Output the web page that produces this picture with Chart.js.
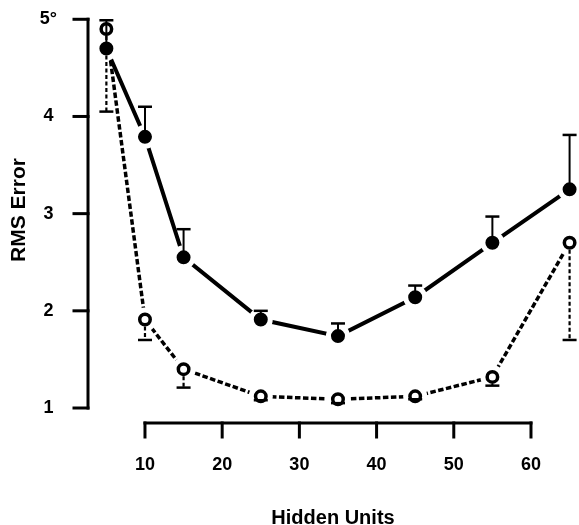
<!DOCTYPE html>
<html>
<head>
<meta charset="utf-8">
<script src="https://cdn.jsdelivr.net/npm/chart.js@4.4.0/dist/chart.umd.min.js"></script>
<style>
  html, body { margin: 0; padding: 0; background: #fff; }
</style>
</head>
<body>
<canvas id="chart_rmsError" width="579" height="525"></canvas>
<script>
// values
var hiddenUnits = [5, 10, 15, 25, 35, 45, 55, 65];
var filledRms   = [4.70, 3.79, 2.55, 1.91, 1.74, 2.14, 2.70, 3.25];
var filledUpper = [4.99, 4.10, 2.84, 2.00, 1.87, 2.26, 2.97, 3.81];
var openRms     = [4.90, 1.91, 1.40, 1.12, 1.09, 1.12, 1.32, 2.70];
var openLower   = [4.05, 1.70, 1.21, 1.08, 1.05, 1.09, 1.23, 1.70];
var xTickValues = [10, 20, 30, 40, 50, 60];
var yTickValues = [1, 2, 3, 4, 5];
var yTickLabels = ['1', '2', '3', '4', '5°'];

var FONT = '"Liberation Sans", Arial, Helvetica, sans-serif';

function toPoints(xs, ys) {
    return xs.map(function (x, i) { return { x: x, y: ys[i] }; });
}

function seg(ctx, x0, y0, x1, y1) {
    ctx.beginPath();
    ctx.moveTo(x0, y0);
    ctx.lineTo(x1, y1);
    ctx.stroke();
}

// keep the label padding from eating into the plot area
function noScalePadding(scale) {
    scale.paddingTop = 0;
    scale.paddingBottom = 0;
    scale.paddingLeft = 0;
    scale.paddingRight = 0;
}

var axesAndErrorBars = {
    id: 'axesAndErrorBars',
    beforeDraw: function (chart) {
        var ctx = chart.ctx;
        ctx.save();
        ctx.fillStyle = 'white';
        ctx.fillRect(0, 0, chart.width, chart.height);
        ctx.restore();
    },
    afterDatasetsDraw: function (chart) {
        var ctx = chart.ctx, xs = chart.scales.x, ys = chart.scales.y;
        ctx.save();
        ctx.strokeStyle = '#000';
        ctx.lineCap = 'butt';
        // upper bars of the filled series
        hiddenUnits.forEach(function (u, i) {
            var px = xs.getPixelForValue(u);
            var p0 = ys.getPixelForValue(filledRms[i]);
            var p1 = ys.getPixelForValue(filledUpper[i]);
            ctx.setLineDash([]);
            ctx.lineWidth = 2;
            seg(ctx, px, p0, px, p1);
            ctx.lineWidth = 2.5;
            seg(ctx, px - 7, p1, px + 7, p1);
        });
        // lower bars of the open series (dashed stem)
        hiddenUnits.forEach(function (u, i) {
            var px = xs.getPixelForValue(u);
            var p0 = ys.getPixelForValue(openRms[i]) + 7;
            var p1 = ys.getPixelForValue(openLower[i]);
            if (p1 > p0) {
                ctx.setLineDash([4, 2.5]);
                ctx.lineWidth = 2.2;
                seg(ctx, px, p0, px, p1);
            }
            ctx.setLineDash([]);
            ctx.lineWidth = 2.5;
            seg(ctx, px - 7, p1, px + 7, p1);
        });
        ctx.restore();
    },
    afterDraw: function (chart) {
        var ctx = chart.ctx, xs = chart.scales.x, ys = chart.scales.y;
        var ax = chart.chartArea.left;
        var ay = chart.chartArea.bottom + 8;
        ctx.save();
        ctx.strokeStyle = '#000';
        ctx.lineWidth = 3;
        ctx.lineCap = 'square';
        // y axis
        seg(ctx, ax, ys.getPixelForValue(yTickValues[0]), ax, ys.getPixelForValue(yTickValues[yTickValues.length - 1]));
        yTickValues.forEach(function (v) {
            var py = ys.getPixelForValue(v);
            seg(ctx, ax - 14, py, ax, py);
        });
        // x axis
        seg(ctx, xs.getPixelForValue(xTickValues[0]), ay, xs.getPixelForValue(xTickValues[xTickValues.length - 1]), ay);
        xTickValues.forEach(function (v) {
            var px = xs.getPixelForValue(v);
            seg(ctx, px, ay, px, ay + 14);
        });
        ctx.restore();
    }
};

var chart_rmsError = new Chart(document.getElementById('chart_rmsError'), {
    type: 'line',
    data: {
        datasets: [
            {
                label: 'filled line',
                data: toPoints(hiddenUnits, filledRms),
                borderColor: '#000',
                borderWidth: 4,
                pointRadius: 0,
                fill: false,
                order: 5
            },
            {
                label: 'open line',
                data: toPoints(hiddenUnits, openRms),
                borderColor: '#000',
                borderWidth: 3.5,
                borderDash: [5.5, 2.5],
                pointRadius: 0,
                fill: false,
                order: 5
            },
            {
                label: 'open halo',
                data: toPoints(hiddenUnits, openRms),
                showLine: false,
                pointRadius: 12,
                pointBackgroundColor: '#fff',
                pointBorderColor: 'rgba(0,0,0,0)',
                pointBorderWidth: 0,
                clip: false,
                order: 4
            },
            {
                label: 'filled points',
                data: toPoints(hiddenUnits, filledRms),
                showLine: false,
                pointRadius: 9.5,
                pointBackgroundColor: '#000',
                pointBorderColor: '#fff',
                pointBorderWidth: 5,
                clip: false,
                order: 3
            },
            {
                label: 'open points',
                data: toPoints(hiddenUnits, openRms),
                showLine: false,
                pointRadius: 5.25,
                pointBackgroundColor: '#fff',
                pointBorderColor: '#000',
                pointBorderWidth: 3.5,
                clip: false,
                order: 2
            }
        ]
    },
    options: {
        animation: false,
        responsive: false,
        layout: { autoPadding: false, padding: { top: 5, right: 1, bottom: 0, left: 0 } },
        plugins: {
            legend: { display: false },
            tooltip: { enabled: false }
        },
        scales: {
            x: {
                type: 'linear',
                min: 2.62,
                max: 66.09,
                grid: { display: false, drawTicks: false },
                border: { display: false },
                afterBuildTicks: function (scale) {
                    scale.ticks = xTickValues.map(function (v) { return { value: v }; });
                },
                afterFit: function (scale) {
                    scale.height = 110;
                    noScalePadding(scale);
                },
                ticks: {
                    color: '#000',
                    padding: 39,
                    maxRotation: 0,
                    font: { family: FONT, size: 18, weight: 'bold' }
                },
                title: {
                    display: true,
                    text: 'Hidden Units',
                    color: '#000',
                    padding: { top: 0, bottom: -3 },
                    font: { family: FONT, size: 20, weight: 'bold', lineHeight: 1 }
                }
            },
            y: {
                type: 'linear',
                min: 0.928,
                max: 5.147,
                grid: { display: false, drawTicks: false },
                border: { display: false },
                afterBuildTicks: function (scale) {
                    scale.ticks = yTickValues.map(function (v) { return { value: v }; });
                },
                afterFit: function (scale) {
                    scale.width = 88;
                    noScalePadding(scale);
                },
                ticks: {
                    color: '#000',
                    padding: 31,
                    crossAlign: 'center',
                    font: { family: FONT, size: 18, weight: 'bold' },
                    callback: function (value) {
                        var i = yTickValues.indexOf(value);
                        return i >= 0 ? yTickLabels[i] : '';
                    }
                },
                title: {
                    display: true,
                    text: 'RMS Error',
                    color: '#000',
                    padding: { top: 7, bottom: 0 },
                    font: { family: FONT, size: 21, weight: 'bold' }
                }
            }
        }
    },
    plugins: [axesAndErrorBars]
});
</script>
</body>
</html>
